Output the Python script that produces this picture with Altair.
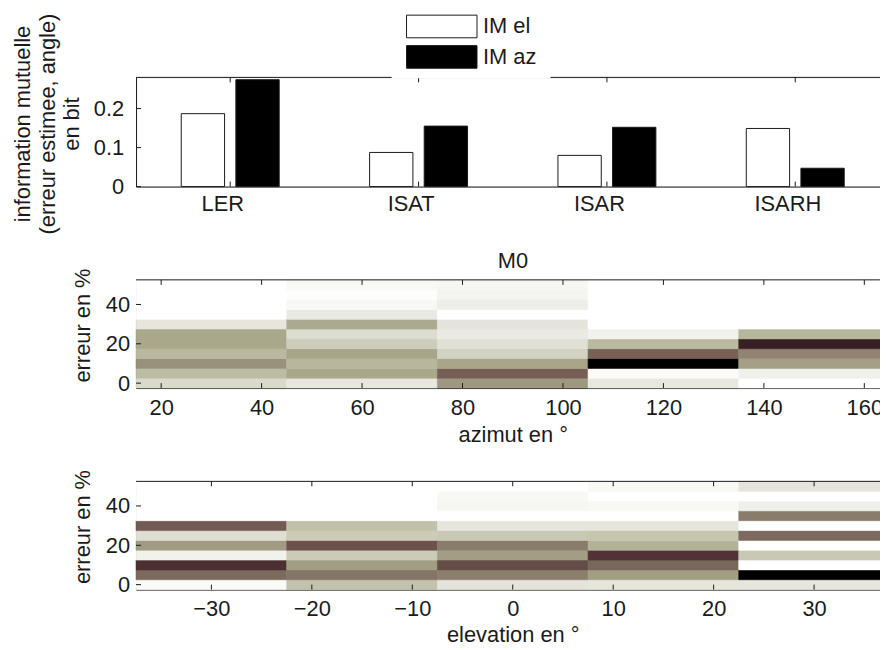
import json
import altair as alt
import pandas as pd

# ---------------- data ----------------
methods = ["LER", "ISAT", "ISAR", "ISARH"]
series = ["IM el", "IM az"]
series_fill = ["#ffffff", "#000000"]
im_el = [0.187, 0.0875, 0.080, 0.149]
im_az = [0.274, 0.155, 0.152, 0.047]
bar_yticks = [0, 0.1, 0.2]

err_levels = [0, 5, 10, 15, 20, 25, 30, 35, 40, 45, 50]
err_ticks = [0, 20, 40]

az_centers = [30, 60, 90, 120, 150]
az_ticks = [20, 40, 60, 80, 100, 120, 140, 160]
# one list per azimuth column, from 0 % (bottom) to 50 % (top)
az_col30 = [0.20, 0.32, 0.48, 0.33, 0.40, 0.40, 0.14, 0.00, 0.00, 0.00, 0.00]
az_col60 = [0.13, 0.40, 0.34, 0.41, 0.25, 0.19, 0.39, 0.11, 0.04, 0.01, 0.04]
az_col90 = [0.46, 0.64, 0.41, 0.23, 0.17, 0.11, 0.15, 0.00, 0.09, 0.06, 0.05]
az_col120 = [0.13, 0.02, 1.00, 0.63, 0.33, 0.07, 0.00, 0.00, 0.00, 0.00, 0.00]
az_col150 = [0.00, 0.08, 0.43, 0.52, 0.81, 0.34, 0.00, 0.00, 0.00, 0.00, 0.00]

el_centers = [-30, -15, 0, 15, 30]
el_ticks = [-30, -20, -10, 0, 10, 20, 30]
el_colm30 = [0.03, 0.60, 0.76, 0.07, 0.45, 0.18, 0.65, 0.00, 0.00, 0.00, 0.00]
el_colm15 = [0.29, 0.57, 0.44, 0.26, 0.68, 0.26, 0.30, 0.00, 0.00, 0.00, 0.00]
el_col0 = [0.15, 0.54, 0.70, 0.44, 0.55, 0.27, 0.14, 0.00, 0.05, 0.04, 0.00]
el_col15 = [0.14, 0.44, 0.61, 0.75, 0.36, 0.28, 0.14, 0.00, 0.04, 0.00, 0.04]
el_col30 = [0.14, 1.00, 0.00, 0.27, 0.00, 0.60, 0.00, 0.55, 0.08, 0.00, 0.15]

cmap_domain = [0, 0.05, 0.10, 0.15, 0.20, 0.25, 0.30, 0.35, 0.40, 0.45,
               0.50, 0.55, 0.60, 0.65, 0.70, 0.75, 0.80, 0.90, 1.0]
cmap_range = ["#ffffff", "#f6f6f2", "#ecece6", "#e4e4da", "#dadacc", "#cdcdbb",
              "#c1c1a9", "#b5b49a", "#aaa88b", "#a09b82", "#958a78", "#8a7c6b",
              "#7c6a5e", "#735b53", "#654c48", "#513236", "#3a2224", "#1a0e0f",
              "#000000"]

# ---------------- style / layout ----------------
FONT = "Liberation Sans, Arial, Helvetica, sans-serif"
FS = 22
INK = "#1a1a1a"
FULL_W = 759          # full plot width (right part falls outside the page)
VIS_W = 750.5         # visible part
H_BAR = 110
H_MAP = 109
TICK = 5


def vis_domain(lo, hi):
    return [lo, lo + (hi - lo) * VIS_W / FULL_W]


def one():
    return pd.DataFrame({"k": [0]})


def frame_layers(xfield, yfield, xvals, yvals, height):
    xt = pd.DataFrame({xfield: xvals})
    yt = pd.DataFrame({yfield: yvals})
    top = alt.Chart(xt).mark_rule(color=INK, strokeWidth=1).encode(
        x=alt.X(f"{xfield}:Q"), y=alt.value(0), y2=alt.value(TICK))
    bot = alt.Chart(xt).mark_rule(color=INK, strokeWidth=1).encode(
        x=alt.X(f"{xfield}:Q"), y=alt.value(height), y2=alt.value(height - TICK))
    left = alt.Chart(yt).mark_rule(color=INK, strokeWidth=1).encode(
        y=alt.Y(f"{yfield}:Q"), x=alt.value(0), x2=alt.value(TICK))
    border = alt.Chart(one()).mark_rule(color=INK, strokeWidth=1).encode(
        x=alt.value(0), x2=alt.value(VIS_W), y=alt.value(0))
    return [border, top, bot, left]


axis_common = dict(ticks=False, grid=False, domain=True, domainColor=INK,
                   domainWidth=1, labelFont=FONT, labelFontSize=FS,
                   labelColor=INK, titleFont=FONT, titleFontSize=FS,
                   titleColor=INK, titleFontWeight="normal")

# ---------------- panel 1 : bars ----------------
bar_rows = []
for i, m in enumerate(methods):
    c = i + 1
    bar_rows.append(dict(method=m, series=series[0], value=im_el[i], x0=c - 0.26, x1=c - 0.03))
    bar_rows.append(dict(method=m, series=series[1], value=im_az[i], x0=c + 0.03, x1=c + 0.26))
bars_df = pd.DataFrame(bar_rows)

fill_scale = alt.Scale(domain=series, range=series_fill)

bars = alt.Chart(bars_df).mark_rect(stroke=INK, strokeWidth=1).encode(
    x=alt.X("x0:Q", scale=alt.Scale(domain=vis_domain(0.5, 4.5), nice=False, zero=False),
            axis=alt.Axis(values=list(range(1, len(methods) + 1)),
                          labelExpr=f"{json.dumps(methods)}[datum.value - 1]",
                          labelPadding=7, labelOffset=-8, title=None, **axis_common)),
    x2="x1:Q",
    y=alt.Y("value:Q", scale=alt.Scale(domain=[0, 0.28], nice=False),
            axis=alt.Axis(values=bar_yticks, format="~g", labelPadding=12.5,
                          title=["information mutuelle", "(erreur estimee, angle)", "en bit"],
                          titleX=-102.5, titleY=46.5, titleAlign="center",
                          titleBaseline="bottom", titleLineHeight=25, **axis_common)),
    y2=alt.datum(0),
    fill=alt.Fill("series:N", scale=fill_scale, legend=None),
)

legend_layers = [
    alt.Chart(one()).mark_rect(fill="white").encode(
        x=alt.value(257.5), x2=alt.value(417.5), y=alt.value(-66), y2=alt.value(1))
]
for i, s in enumerate(series):
    d = pd.DataFrame({"series": [s]})
    y_top = -62.7 + i * 30.7
    legend_layers.append(
        alt.Chart(d).mark_rect(stroke=INK, strokeWidth=1).encode(
            x=alt.value(272.5), x2=alt.value(343.5),
            y=alt.value(y_top), y2=alt.value(y_top + 22.8),
            fill=alt.Fill("series:N", scale=fill_scale, legend=None)))
    legend_layers.append(
        alt.Chart(d).mark_text(align="left", baseline="middle", font=FONT,
                               fontSize=FS, color=INK).encode(
            x=alt.value(349.5), y=alt.value(y_top + 11.4), text="series:N"))

p1 = alt.layer(bars,
               *frame_layers("x0", "value", list(range(1, len(methods) + 1)), bar_yticks, H_BAR),
               *legend_layers).properties(width=VIS_W, height=H_BAR)


# ---------------- heatmaps ----------------
def heat_df(centers, cols):
    hw = (centers[1] - centers[0]) / 2
    hh = (err_levels[1] - err_levels[0]) / 2
    rows = []
    for c, col in zip(centers, cols):
        for e, p in zip(err_levels, col):
            rows.append(dict(x0=c - hw, x1=c + hw, y0=e - hh, y1=e + hh, p=p))
    return pd.DataFrame(rows), centers[0] - hw, centers[-1] + hw, err_levels[0] - hh, err_levels[-1] + hh


cmap = alt.Scale(domain=cmap_domain, range=cmap_range, interpolate="rgb")


def heat_panel(centers, cols, xticks, xtitle, title_y, lab_pad, title=None):
    df, xlo, xhi, ylo, yhi = heat_df(centers, cols)
    rects = alt.Chart(df).mark_rect(strokeWidth=0.6).encode(
        x=alt.X("x0:Q", scale=alt.Scale(domain=vis_domain(xlo, xhi), nice=False,
                                        zero=False, clamp=True),
                axis=alt.Axis(values=xticks, labelPadding=lab_pad, title=xtitle,
                              titleX=FULL_W / 2, titleY=title_y, titleAlign="center",
                              titleBaseline="alphabetic", **axis_common)),
        x2="x1:Q",
        y=alt.Y("y0:Q", scale=alt.Scale(domain=[ylo, yhi], nice=False, zero=False),
                axis=alt.Axis(values=err_ticks, labelPadding=6.5, title="erreur en %",
                              titleX=-42, titleY=45.5, titleAlign="center",
                              titleBaseline="bottom", **axis_common)),
        y2="y1:Q",
        color=alt.Color("p:Q", scale=cmap, legend=None),
        stroke=alt.Stroke("p:Q", scale=cmap, legend=None),
    )
    ch = alt.layer(rects, *frame_layers("x0", "y0", xticks, err_ticks, H_MAP)).properties(
        width=VIS_W, height=H_MAP)
    if title:
        ch = ch.properties(title=alt.TitleParams(title, font=FONT, fontSize=FS,
                                                 fontWeight="normal", color=INK,
                                                 offset=11, frame="group",
                                                 anchor="middle", dx=4.5, dy=16))
    return ch


p2 = heat_panel(az_centers, [az_col30, az_col60, az_col90, az_col120, az_col150],
                az_ticks, "azimut en °", 54, 10, title="M0")
p3 = heat_panel(el_centers, [el_colm30, el_colm15, el_col0, el_col15, el_col30],
                el_ticks, "elevation en °", 52, 9.5)

chart = alt.vconcat(p1, p2, p3, spacing=94, bounds="flush").properties(
    padding={"left": 2, "top": 0.5, "right": -4, "bottom": 2}
).configure_view(stroke=None).configure(background="white")

chart.save("out.html", embed_options={"renderer": "svg", "actions": False})
